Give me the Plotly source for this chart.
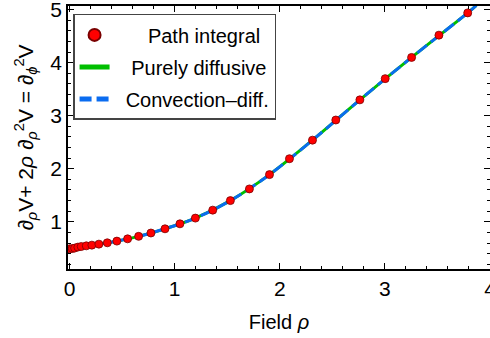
import plotly.graph_objects as go

# Path-integral points
rho_pts = [0.0, 0.026, 0.048, 0.079, 0.111, 0.159, 0.212, 0.279, 0.359, 0.450,
           0.552, 0.657, 0.774, 0.908, 1.05, 1.197, 1.362, 1.530, 1.711, 1.902,
           2.092, 2.311, 2.533, 2.762, 3.003, 3.254, 3.514, 3.788]
val_pts = [0.49, 0.496, 0.504, 0.523, 0.534, 0.547, 0.560, 0.579, 0.604, 0.636,
           0.679, 0.726, 0.789, 0.868, 0.962, 1.07, 1.22, 1.40, 1.62, 1.89,
           2.19, 2.54, 2.92, 3.30, 3.70, 4.10, 4.52, 4.94]

# Continuous curves (purely diffusive / convection-diffusion)
rho_curve = [0.0, 0.079, 0.159, 0.279, 0.450, 0.657, 0.908, 1.197, 1.530, 1.902,
             2.311, 2.762, 3.254, 3.788, 3.87]
val_curve = [0.48, 0.52, 0.547, 0.579, 0.636, 0.726, 0.868, 1.07, 1.40, 1.89,
             2.54, 3.30, 4.10, 4.94, 5.08]

x_ticks = [0, 1, 2, 3, 4]
y_ticks = [1, 2, 3, 4, 5]

FONT = "Liberation Sans"
NB = "\u00a0"

fig = go.Figure()
fig.add_trace(go.Scatter(
    x=rho_curve, y=val_curve, mode="lines", name=NB * 3 + "Purely diffusive",
    line=dict(color="#00bf00", width=3, shape="spline"),
    legendgroup="b", legendrank=2))
fig.add_trace(go.Scatter(
    x=rho_curve, y=val_curve, mode="lines", name=NB * 2 + "Convection\u2013diff.",
    line=dict(color="#0a6cf0", width=3, dash="12px,5px", shape="spline"),
    legendgroup="c", legendrank=3))
fig.add_trace(go.Scatter(
    x=rho_pts, y=val_pts, mode="markers", name=NB * 6 + "Path integral",
    marker=dict(color="#ff0000", size=8, line=dict(color="#7a0000", width=0.8)),
    legendgroup="a", legendrank=1))

axis_common = dict(
    showline=True, linecolor="black", linewidth=1.5, mirror="allticks",
    ticks="inside", ticklen=6, tickwidth=1, tickcolor="black",
    showgrid=False, zeroline=False, automargin=False, ticklabeloverflow="allow",
    tickfont=dict(family=FONT, size=21, color="black"),
    minor=dict(ticks="inside", ticklen=3, tickwidth=1, tickcolor="black", dtick=0.2, showgrid=False),
)

fig.update_xaxes(range=[-0.015, 4.0], tickvals=x_ticks, ticktext=[str(t) for t in x_ticks],
                 title=dict(text="Field <i>\u03c1</i>", font=dict(family=FONT, size=20, color="black"), standoff=16),
                 **axis_common)
fig.update_yaxes(range=[0.11, 5.07], tickvals=y_ticks, ticktext=[str(t) for t in y_ticks],
                 title=dict(text="\u2202<sub><i>\u03c1</i></sub>V+ 2<i>\u03c1</i> \u2202<sub><i>\u03c1</i></sub><sup>2</sup>V = \u2202<sub><i>\u03d5</i></sub><sup>2</sup>V",
                            font=dict(family=FONT, size=21, color="black"), standoff=11),
                 **axis_common)

fig.update_layout(
    width=490, height=338,
    margin=dict(l=68, r=0, t=6, b=69, autoexpand=False),
    plot_bgcolor="white", paper_bgcolor="white",
    showlegend=True,
    legend=dict(
        x=0.012, y=0.97, xanchor="left", yanchor="top",
        bgcolor="white", bordercolor="#444444", borderwidth=1.5,
        font=dict(family=FONT, size=20, color="black"),
        itemsizing="constant", tracegroupgap=3,
        traceorder="grouped", entrywidth=235, entrywidthmode="pixels",
    ),
)

fig.write_html("out.html", config={"displayModeBar": False},
               post_script="document.body.style.margin='0';document.body.style.overflow='hidden';")
